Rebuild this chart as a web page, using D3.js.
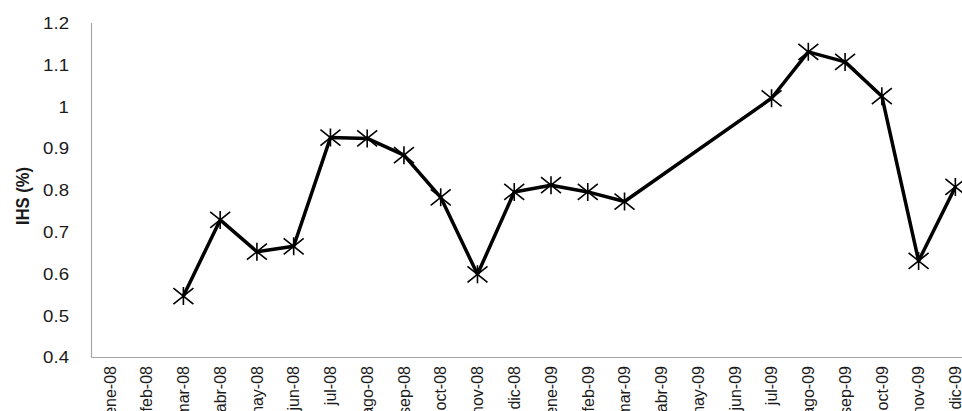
<!DOCTYPE html>
<html>
<head>
<meta charset="utf-8">
<script src="https://cdn.jsdelivr.net/npm/d3@7"></script>
<style>
  html, body { margin: 0; padding: 0; background: #fff; overflow: hidden; }
  svg { display: block; }
</style>
</head>
<body>
<svg id="chart" width="962" height="411"></svg>
<script>
const months = ["ene-08","feb-08","mar-08","abr-08","may-08","jun-08","jul-08","ago-08","sep-08","oct-08","nov-08","dic-08",
                "ene-09","feb-09","mar-09","abr-09","may-09","jun-09","jul-09","ago-09","sep-09","oct-09","nov-09","dic-09"];
const ihsValues = [null, null, 0.547, 0.729, 0.653, 0.666, 0.926, 0.924, 0.884, 0.783, 0.599, 0.796,
                   0.812, 0.796, 0.773, null, null, null, 1.020, 1.131, 1.107, 1.025, 0.631, 0.808];
const yTicks = [0.4, 0.5, 0.6, 0.7, 0.8, 0.9, 1.0, 1.1, 1.2];
const yTickLabels = ["0.4","0.5","0.6","0.7","0.8","0.9","1","1.1","1.2"];
const yTitle = "IHS (%)";

const svg = d3.select("#chart");
const plotLeft = 91.5, plotTop = 23, plotBottom = 357.5, bandW = 36.76;

const x = d3.scaleBand().domain(months).range([plotLeft, plotLeft + bandW * months.length]).padding(0);
const y = d3.scaleLinear().domain([0.4, 1.2]).range([plotBottom, plotTop]);

const axisColor = "#a6a6a6";

// y axis line
svg.append("line")
  .attr("x1", plotLeft).attr("x2", plotLeft)
  .attr("y1", y(1.2)).attr("y2", y(0.4))
  .attr("stroke", axisColor).attr("stroke-width", 1.2);
// x axis line
svg.append("line")
  .attr("x1", plotLeft).attr("x2", x.range()[1])
  .attr("y1", plotBottom).attr("y2", plotBottom)
  .attr("stroke", axisColor).attr("stroke-width", 1.2);

// y tick labels
svg.append("g").selectAll("text").data(yTicks).join("text")
  .attr("transform", d => `translate(69,${y(d)}) scale(1.13,1)`)
  .attr("dy", "0.36em")
  .attr("text-anchor", "end")
  .attr("font-family", "Liberation Sans, Arial, sans-serif")
  .attr("font-size", 16.5)
  .attr("fill", "#1a1a1a")
  .text((d, i) => yTickLabels[i]);

// y title
svg.append("text")
  .attr("transform", `translate(29,196) rotate(-90) scale(0.92,1.05)`)
  .attr("text-anchor", "middle")
  .attr("font-family", "Liberation Sans, Arial, sans-serif")
  .attr("font-weight", "bold")
  .attr("font-size", 18)
  .attr("fill", "#1a1a1a")
  .text(yTitle);

// x tick labels
svg.append("g").selectAll("text").data(months).join("text")
  .attr("transform", d => `translate(${x(d) + x.bandwidth() / 2},366) rotate(-90)`)
  .attr("dy", "0.36em")
  .attr("text-anchor", "end")
  .attr("font-family", "Liberation Sans, Arial, sans-serif")
  .attr("font-size", 16)
  .attr("fill", "#1a1a1a")
  .text(d => d);

// data
const pts = months.map((m, i) => ({ m, v: ihsValues[i] })).filter(d => d.v !== null);
const cx = d => x(d.m) + x.bandwidth() / 2;

svg.append("path")
  .datum(pts)
  .attr("fill", "none")
  .attr("stroke", "#000")
  .attr("stroke-width", 3.5)
  .attr("stroke-linejoin", "round")
  .attr("d", d3.line().x(cx).y(d => y(d.v)));

const mk = svg.append("g").selectAll("g").data(pts).join("g")
  .attr("transform", d => `translate(${cx(d)},${y(d.v)})`)
  .attr("stroke", "#000").attr("stroke-width", 1.6).attr("fill", "none");
mk.append("path").attr("d", "M-10,-8L10,8M-10,8L10,-8M0,-9L0,9");
</script>
</body>
</html>
